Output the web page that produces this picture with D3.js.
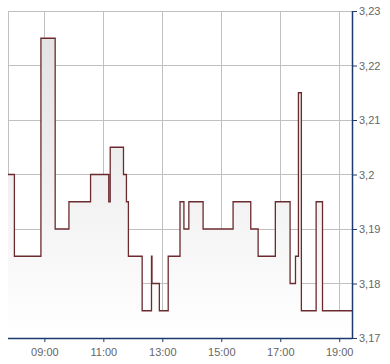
<!DOCTYPE html>
<html>
<head>
<meta charset="utf-8">
<script src="https://cdn.jsdelivr.net/npm/d3@7"></script>
<style>
  body { margin: 0; background: #fff; }
  svg text { font-family: "Liberation Sans", Arial, sans-serif; font-size: 11px; fill: #666; }
</style>
</head>
<body>
<div id="chart"></div>
<script>
// step times (start of each price level) and prices
var times = ["07:46", "07:59", "08:53", "09:22", "09:50", "10:34", "11:11", "11:14", "11:41", "11:47",
             "11:51", "12:19", "12:38", "12:39", "12:54", "13:12", "13:36", "13:44", "13:54", "14:23",
             "15:24", "16:00", "16:15", "16:50", "17:20", "17:31", "17:37", "17:43", "18:13", "18:26", "19:26"];
var prices = [3.2, 3.185, 3.225, 3.19, 3.195, 3.2, 3.195, 3.205, 3.2, 3.195,
              3.185, 3.175, 3.185, 3.18, 3.175, 3.185, 3.195, 3.19, 3.195, 3.19,
              3.195, 3.19, 3.185, 3.195, 3.18, 3.185, 3.215, 3.175, 3.195, 3.175, 3.175];

var xTicks = ["09:00", "11:00", "13:00", "15:00", "17:00", "19:00"];
var yTicks = [3.17, 3.18, 3.19, 3.2, 3.21, 3.22, 3.23];
var xStart = "07:46", xEnd = "19:26";

var svgWidth = 390;
var svgHeight = 364;
var margin = { top: 11, right: 38, bottom: 26, left: 8 };
var width = svgWidth - margin.left - margin.right;
var height = svgHeight - margin.top - margin.bottom;

var parseTime = d3.timeParse("%H:%M");
var data = times.map((t, i) => ({ t: parseTime(t), v: prices[i] }));

var svg = d3.select("#chart").append("svg")
  .attr("width", svgWidth)
  .attr("height", svgHeight);

var defs = svg.append("defs");
var grad = defs.append("linearGradient")
  .attr("id", "fillGrad")
  .attr("x1", 0).attr("y1", 0).attr("x2", 0).attr("y2", 1);
grad.append("stop").attr("offset", "0%").attr("stop-color", "#e3e3e3");
grad.append("stop").attr("offset", "100%").attr("stop-color", "#ffffff");

var chartGroup = svg.append("g")
  .attr("transform", `translate(${margin.left}, ${margin.top})`);

var x = d3.scaleTime()
  .domain([parseTime(xStart), parseTime(xEnd)])
  .range([0, width]);

var y = d3.scaleLinear()
  .domain([3.17, 3.23])
  .range([height, 0]);

// grid
chartGroup.append("g").selectAll("line")
  .data(yTicks)
  .enter().append("line")
  .attr("x1", 0).attr("x2", width)
  .attr("y1", d => Math.round(y(d)) + 0.5)
  .attr("y2", d => Math.round(y(d)) + 0.5)
  .attr("stroke", "#c0c0c0");

chartGroup.append("g").selectAll("line")
  .data(xTicks)
  .enter().append("line")
  .attr("x1", d => Math.round(x(parseTime(d))) + 0.5)
  .attr("x2", d => Math.round(x(parseTime(d))) + 0.5)
  .attr("y1", 0).attr("y2", height)
  .attr("stroke", "#c0c0c0");

chartGroup.append("line")
  .attr("x1", 0.5).attr("x2", 0.5)
  .attr("y1", 0).attr("y2", height)
  .attr("stroke", "#c0c0c0");

// area + step line
var area = d3.area()
  .curve(d3.curveStepAfter)
  .x(d => x(d.t))
  .y0(height)
  .y1(d => y(d.v));

var line = d3.line()
  .curve(d3.curveStepAfter)
  .x(d => x(d.t))
  .y(d => y(d.v));

chartGroup.append("path")
  .datum(data)
  .attr("d", area)
  .attr("fill", "url(#fillGrad)");

chartGroup.append("path")
  .datum(data)
  .attr("d", line)
  .attr("fill", "none")
  .attr("stroke", "#6b2a2e")
  .attr("stroke-width", 1.3);

// axes
var fmt = d3.format(".2~f");
var rightAxis = d3.axisRight(y)
  .tickValues(yTicks)
  .tickSize(5)
  .tickPadding(2)
  .tickFormat(d => fmt(d).replace(".", ","));

var bottomAxis = d3.axisBottom(x)
  .tickValues(xTicks.map(parseTime))
  .tickSize(4)
  .tickPadding(6)
  .tickFormat(d3.timeFormat("%H:%M"));

var yAxis = chartGroup.append("g")
  .attr("transform", `translate(${width}, 0)`)
  .call(rightAxis);

var xAxis = chartGroup.append("g")
  .attr("transform", `translate(0, ${height})`)
  .call(bottomAxis);

[yAxis, xAxis].forEach(function(a) {
  a.select(".domain").attr("stroke", "#1c3a6e").attr("stroke-width", 1.5);
  a.selectAll(".tick line").attr("stroke", "#1c3a6e");
  a.selectAll(".tick text").attr("fill", "#666").style("font-size", "11px");
});
xAxis.select(".domain").attr("d", `M0,0.5H${width}`);
yAxis.select(".domain").attr("d", `M0.5,0V${height}`);
</script>
</body>
</html>
